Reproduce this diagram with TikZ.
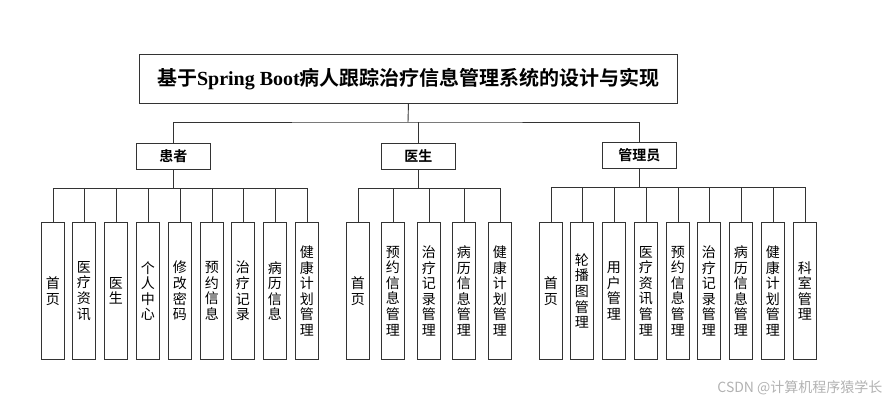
\documentclass[tikz,border=0pt]{standalone}
\usepackage{fontspec}
\newfontfamily\cjk{Noto Sans CJK SC}
\newfontfamily\cjkb{Noto Sans CJK SC Bold}
\newfontfamily\latb{Liberation Serif}
\begin{document}
\begin{tikzpicture}[x=1pt,y=-1pt,
  box/.style={draw=black!80,line width=0.9pt,inner sep=0pt},
  leaf/.style={box,minimum width=23pt,minimum height=137pt,anchor=north west,font=\cjk\fontsize{14}{15.6}\selectfont,align=center},
  grp/.style={box,minimum width=74pt,minimum height=26pt,anchor=north west,font=\cjkb\fontsize{14}{15}\selectfont},
  ln/.style={draw=black!80,line width=0.9pt}]
\useasboundingbox (0,0) rectangle (888,404);
\node[box,minimum width=538pt,minimum height=49pt,anchor=north west,font=\cjkb\fontsize{20}{22}\selectfont] (root) at (139,54) {基于{\latb\bfseries Spring Boot}病人跟踪治疗信息管理系统的设计与实现};
\node[grp] (g1) at (136,143) {患者};
\node[grp] (g2) at (381,143) {医生};
\node[grp] (g3) at (602,142) {管理员};
\draw[ln] (root.south) -- (408,122) coordinate (rb);
\draw[ln] (g1.north) |- (rb) -| (g3.north);
\draw[ln] (g2.north) -- (g2.north |- rb);
\def\y{222}
\foreach \x/\t [count=\i] in {41/首\\页,72/医\\疗\\资\\讯,104/医\\生,136/个\\人\\中\\心,168/修\\改\\密\\码,200/预\\约\\信\\息,231/治\\疗\\记\\录,263/病\\历\\信\\息,295/健\\康\\计\\划\\管\\理}{
  \node[leaf] (p\i) at (\x,\y) {\t};
  \draw[ln] (p\i.north) -- (p\i.north |- 0,188);}
\draw[ln] (p1.north |- 0,188) -- (p9.north |- 0,188);
\draw[ln] (g1.south) -- (g1.south |- 0,188);
\foreach \x/\t [count=\i] in {346/首\\页,381/预\\约\\信\\息\\管\\理,417/治\\疗\\记\\录\\管\\理,452/病\\历\\信\\息\\管\\理,488/健\\康\\计\\划\\管\\理}{
  \node[leaf] (d\i) at (\x,\y) {\t};
  \draw[ln] (d\i.north) -- (d\i.north |- 0,188);}
\draw[ln] (d1.north |- 0,188) -- (d5.north |- 0,188);
\draw[ln] (g2.south) -- (g2.south |- 0,188);
\foreach \x/\t [count=\i] in {539/首\\页,570/轮\\播\\图\\管\\理,602/用\\户\\管\\理,634/医\\疗\\资\\讯\\管\\理,666/预\\约\\信\\息\\管\\理,697/治\\疗\\记\\录\\管\\理,729/病\\历\\信\\息\\管\\理,761/健\\康\\计\\划\\管\\理,793/科\\室\\管\\理}{
  \node[leaf] (a\i) at (\x,\y) {\t};
  \draw[ln] (a\i.north) -- (a\i.north |- 0,187);}
\draw[ln] (a1.north |- 0,187) -- (a9.north |- 0,187);
\draw[ln] (g3.south) -- (g3.south |- 0,187);
\node[font=\cjk\fontsize{14}{16}\selectfont,text=black!30,anchor=east] (wm) at (886,388) {CSDN @计算机程序猿学长};
\end{tikzpicture}
\end{document}
